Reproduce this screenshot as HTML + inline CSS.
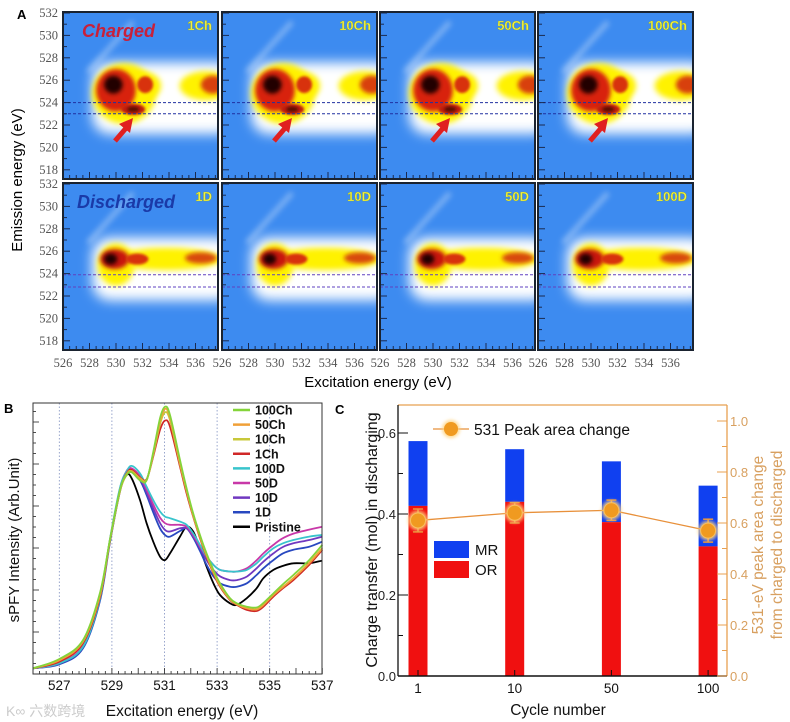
<!DOCTYPE html>
<html><head><meta charset="utf-8">
<style>
html,body{margin:0;padding:0;background:#fff;}
svg{display:block;font-family:"Liberation Sans",sans-serif;}
.serif{font-family:"Liberation Serif",serif;}
</style></head>
<body>
<svg id="fig" width="790" height="722" viewBox="0 0 790 722" xmlns="http://www.w3.org/2000/svg">
<defs>
<filter id="b6" x="-50%" y="-50%" width="200%" height="200%"><feGaussianBlur stdDeviation="6"/></filter>
<filter id="b3" x="-50%" y="-50%" width="200%" height="200%"><feGaussianBlur stdDeviation="3"/></filter>
<filter id="b2" x="-50%" y="-50%" width="200%" height="200%"><feGaussianBlur stdDeviation="2"/></filter>
<filter id="b1" x="-50%" y="-50%" width="200%" height="200%"><feGaussianBlur stdDeviation="1.2"/></filter>
<filter id="glow" x="-50%" y="-50%" width="200%" height="200%"><feGaussianBlur stdDeviation="1.5"/></filter>
</defs>
<g id="panelA"></g>
<g id="panelB"></g>
<g id="panelC"></g>
</svg>
<script>
// ---------------- Panel A data ----------------
const aLabels = ["1Ch","10Ch","50Ch","100Ch","1D","10D","50D","100D"];
const aXTicks = [526,528,530,532,534,536];
const aYTicks = [532,530,528,526,524,522,520,518];
// halo rectangles [x1,y1,x2,y2] in eV
const chargedHalo=[528.2,527.6,539,521.2];
const dischargedHalo=[528.2,527.2,539,521.6];
// blobs [cx(eV), cy(eV), rx(eV), ry(eV), color, blur]
const chargedBlobs = [
 [530.6,524.8,2.4,2.7,"#fff200","b3"],
 [532.2,525.5,1.2,1.2,"#fff200","b3"],
 [536.8,525.5,2.0,1.3,"#fff200","b3"],
 [530.0,525.1,1.5,1.9,"#d82010","b2"],
 [532.2,525.6,0.6,0.75,"#d83010","b1"],
 [537.3,525.6,0.9,0.8,"#d84010","b2"],
 [531.3,523.4,0.9,0.5,"#c01a10","b1"],
 [529.8,525.6,0.7,0.8,"#200000","b2"],
 [531.3,523.4,0.45,0.25,"#601000","b1"]
];
const dischargedBlobs = [
 [533.8,525.3,4.2,1.0,"#fff200","b3"],
 [530.0,524.8,1.4,1.9,"#fff200","b3"],
 [529.9,525.3,1.1,0.9,"#c81810","b2"],
 [531.6,525.3,0.85,0.5,"#d83010","b1"],
 [536.4,525.4,1.2,0.5,"#d84810","b2"],
 [529.6,525.3,0.5,0.5,"#200000","b2"]
];
const aLefts=[63,222,380,538], aTops=[12,183], aW=155, aH=167;
const SVGNS="http://www.w3.org/2000/svg";
function el(tag,attrs,parent){const e=document.createElementNS(SVGNS,tag);for(const k in attrs)e.setAttribute(k,attrs[k]);if(parent)parent.appendChild(e);return e;}
const A=document.getElementById('panelA');
function ax(E,l){return l+(E-526)*13.25;}
function ay(E,t){return t+1+(532-E)*11.2;}
aLabels.forEach((lab,i)=>{
  const row=i<4?0:1, col=i%4, l=aLefts[col], t=aTops[row];
  const g=el('g',{},A);
  
  
  const cid='clip'+i;
  const cp=el('clipPath',{id:cid},g); el('rect',{x:l,y:t,width:aW,height:aH},cp);
  const inner=el('g',{'clip-path':'url(#'+cid+')'},g);
  el('rect',{x:l,y:t,width:aW,height:aH,fill:'#3d8bf0'},inner);
  el('line',{x1:l+25,y1:t+60,x2:l+70,y2:t+10,stroke:'#9cc4f6','stroke-width':5,filter:'url(#b3)',opacity:0.7},inner);
  const h=row===0?chargedHalo:dischargedHalo;
  el('rect',{x:ax(h[0],l),y:ay(h[1],t),width:ax(h[2],l)-ax(h[0],l),height:ay(h[3],t)-ay(h[1],t),rx:18,fill:'#ffffff',filter:'url(#b6)'},inner);
  const blobs=row===0?chargedBlobs:dischargedBlobs;
  blobs.forEach(b=>{
    el('ellipse',{cx:ax(b[0],l),cy:ay(b[1],t),rx:b[2]*13.25,ry:b[3]*11.2,fill:b[4],filter:'url(#'+b[5]+')'},inner);
  });
  const dl=row===0?[524,523]:[523.9,522.8];
  dl.forEach(v=>{
    const ln=el('line',{x1:l,x2:l+aW,y1:ay(v,t),y2:ay(v,t),stroke:row===0?'#2030a0':'#6040c0','stroke-width':1,'stroke-dasharray':'3,2'},inner);
    
    
  });
  for(let e=517;e<=532;e+=1){const y=ay(e,t);if(y<t||y>t+aH)continue;el('line',{x1:l,x2:l+(e%2===0?7:4),y1:y,y2:y,stroke:'#1a2a50','stroke-width':1},inner);}
  for(let e=526;e<=537.5;e+=0.5){const x=ax(e,l);el('line',{x1:x,x2:x,y1:t+aH,y2:t+aH-(e%2===0?7:4),stroke:'#1a2a50','stroke-width':1},inner);}
  el('rect',{x:l,y:t,width:aW,height:aH,fill:'none',stroke:'#1a2330','stroke-width':2},g);
  const tx=el('text',{x:l+aW-6,y:t+18,'text-anchor':'end','font-size':13,'font-weight':'bold',fill:'#f4f040',stroke:'#80a020','stroke-width':0.3},g);
  tx.textContent=lab;
  
  
  if(col===0){
    aYTicks.forEach(v=>{const tt=el('text',{x:l-5,y:ay(v,t)+4,'text-anchor':'end','font-size':12.5,fill:'#555',class:'serif'},A);tt.textContent=v;
      });
  }
  if(row===1){
    aXTicks.forEach(v=>{const tt=el('text',{x:ax(v,l),y:367,'text-anchor':'middle','font-size':12.5,fill:'#555',class:'serif'},A);tt.textContent=v;
      });
  }
});
</script>
<script>
(function(){
const A=document.getElementById('panelA');
A.insertAdjacentHTML('beforeend',
'<text x="17" y="19" font-size="13" font-weight="bold">A</text>'+
'<text x="82" y="37" font-size="18" font-weight="bold" font-style="italic" fill="#c8203a">Charged</text>'+
'<text x="77" y="208" font-size="18" font-weight="bold" font-style="italic" fill="#1a3aa8">Discharged</text>'+
'<text transform="translate(22,180) rotate(-90)" text-anchor="middle" font-size="15">Emission energy (eV)</text>'+
'<text x="378" y="387" text-anchor="middle" font-size="15">Excitation energy (eV)</text>');
[63,222,380,538].forEach(l=>{
  A.insertAdjacentHTML('beforeend','<g><line x1="'+(l+52)+'" y1="141" x2="'+(l+64)+'" y2="127" stroke="#e02020" stroke-width="5"/><polygon points="'+(l+70)+',118 '+(l+56)+',124 '+(l+67)+',133" fill="#e02020"/></g>');
});
})();
</script>
<script>
// ---------------- Panel B data ----------------
const bEnergy=[526.0,527.0,527.9,528.55,528.93,529.31,529.56,529.75,530.07,530.32,530.57,530.83,531.02,531.21,531.59,531.84,532.09,532.35,532.6,532.86,533.11,533.49,533.75,534.13,534.5,534.76,535.14,535.5,535.9,536.5,537.0];
const bNames=["100Ch","50Ch","10Ch","1Ch","100D","50D","10D","1D","Pristine"];
const s100Ch=[2.5,6,13.1,31,51,69.4,75,76,73,73,83.5,96.3,100.6,97.5,80.6,70,60.6,52.5,45.6,39.4,34.4,28.8,26.9,25.6,25.3,27,30.6,34,37.5,43.1,48.8];
const s50Ch=[2.5,5.5,12.5,30,50.6,69,75,76.3,73.5,73,83,95,99.8,96.5,79.5,69.4,60,52,45,38.8,33.8,28.5,26.5,25,24.6,26.3,30,33,36.3,42,47.5];
const s10Ch=[2.5,5.8,12.8,30.5,51,69.4,75.3,76.5,73.8,73.2,82.5,94,98.5,95.5,79,69,59.8,51.8,44.8,38.5,33.5,28.3,26.5,25,24.6,26.3,30,33,36.3,42,47.5];
const s1Ch=[2.5,5,11.9,29.4,50.6,69.4,75.6,76.9,74.1,73.4,81.9,91.9,95.4,93.1,78.1,68.1,59.4,51.3,44.4,38.1,33.1,28.1,26.3,24.4,24,25.6,29.4,32.5,35.6,41.3,46.9];
const s100D=[2.5,4.4,10.6,28.8,51.3,70.4,76.3,78.4,75.6,70.6,65.6,61.3,59.4,58.8,57.5,56.3,53.1,48.8,44.4,41.3,39.4,38.8,38.8,39.4,41.9,44.4,47.5,49.4,50.6,51.9,52.5];
const s50D=[2.5,4.4,11,29.5,51,70,76.5,77.5,74.5,69.5,64,59,56.9,56.3,56.3,55.6,52.5,48.1,44.4,41.3,39.4,38.8,38.8,40,43,45.6,48.8,51.3,53,54.5,55.6];
const s10D=[2.5,4.4,10.6,29,50.6,69.4,76,76.9,73.8,68.5,62.5,57,54.4,53.8,55,55,52,47.5,43.1,39.4,37,35.6,35.6,36.9,40,42.5,45.6,48,49.4,50.6,51.9];
const s1D=[2.5,4,10,28,50,69,75.6,76.3,73,67.5,61,55,52.5,51.9,54,55,51.5,46.5,41.3,37,34.4,33.1,33.1,34.4,37.5,40,43.1,45.6,47,48.1,50];
const sPristine=[2.5,4.4,10.6,29.4,50.6,69.4,75,73.8,65.6,56.9,50,44.4,43.1,45.6,51.9,55.6,53.8,47.5,40.6,34.4,30,26.9,26.3,28.8,32.5,36.3,39.4,40.9,41.9,41.9,42.9];
const bXTicks=[527,529,531,533,535,537];
(function(){
const B=document.getElementById('panelB');
const L=33,R=322,T=403,Bt=674;
const bx=E=>L+(E-526)*26.3;
const by=I=>675-I*2.667;
function mk(tag,attrs){const e=document.createElementNS("http://www.w3.org/2000/svg",tag);for(const k in attrs)e.setAttribute(k,attrs[k]);B.appendChild(e);return e;}
bXTicks.slice(0,5).forEach(v=>{const g=mk('line',{x1:bx(v),x2:bx(v),y1:T,y2:Bt,stroke:'#8090c0','stroke-width':0.8,'stroke-dasharray':'1.5,2'});
  });
for(let e=526;e<=537;e+=0.25){const x=bx(e);const len=(Math.abs(e-Math.round(e))<1e-6)?6:3;mk('line',{x1:x,x2:x,y1:Bt,y2:Bt-len,stroke:'#222','stroke-width':0.8});}
for(let i=0;i<26;i++){const y=Bt-i*10.5;if(y<T)break;mk('line',{x1:L,x2:L+(i%4===0?6:3),y1:y,y2:y,stroke:'#222','stroke-width':0.8});}
const cols={"100Ch":"#84d43a","50Ch":"#f0a038","10Ch":"#c8c83a","1Ch":"#d02828","100D":"#38c4cc","50D":"#c838a8","10D":"#7038c0","1D":"#2848c0","Pristine":"#000"};
const data={"100Ch":s100Ch,"50Ch":s50Ch,"10Ch":s10Ch,"1Ch":s1Ch,"100D":s100D,"50D":s50D,"10D":s10D,"1D":s1D,"Pristine":sPristine};
function path(vals){
  const p=bEnergy.map((e,i)=>[bx(e),by(vals[i])]);
  let d='M'+p[0][0].toFixed(1)+','+p[0][1].toFixed(1);
  for(let i=0;i<p.length-1;i++){
    const p0=p[Math.max(0,i-1)],p1=p[i],p2=p[i+1],p3=p[Math.min(p.length-1,i+2)];
    const c1=[p1[0]+(p2[0]-p0[0])/6,p1[1]+(p2[1]-p0[1])/6],c2=[p2[0]-(p3[0]-p1[0])/6,p2[1]-(p3[1]-p1[1])/6];
    d+='C'+c1[0].toFixed(1)+','+c1[1].toFixed(1)+' '+c2[0].toFixed(1)+','+c2[1].toFixed(1)+' '+p2[0].toFixed(1)+','+p2[1].toFixed(1);
  }
  return d;
}
["Pristine","1D","10D","50D","100D","1Ch","10Ch","50Ch","100Ch"].forEach(n=>{
  const pth=mk('path',{d:path(data[n]),fill:'none',stroke:cols[n],'stroke-width':1.8});
  
  
});
mk('rect',{x:L,y:T,width:R-L,height:Bt-T,fill:'none',stroke:'#333','stroke-width':1});
bNames.forEach((n,i)=>{
  const y=410+i*14.6;
  const ln=mk('line',{x1:233,x2:250,y1:y,y2:y,stroke:cols[n],'stroke-width':2.5});
  
  const t=mk('text',{x:255,y:y+4.5,'font-size':12.5,'font-weight':'bold',fill:'#111'});t.textContent=n;
  
});
bXTicks.forEach(v=>{const t=mk('text',{x:bx(v),y:690,'text-anchor':'middle','font-size':13.5,fill:'#111'});t.textContent=v;
  });
})();
</script>
<script>
// ---------------- Panel C data ----------------
const cCats=["1","10","50","100"];
const cTotal=[0.58,0.56,0.53,0.47];
const cOR=[0.42,0.43,0.38,0.32];
const cPeak=[0.61,0.64,0.65,0.57];
const cErr=[0.045,0.04,0.04,0.045];
const cLeftTicks=["0.0","0.2","0.4","0.6"];
const cRightTicks=["0.0","0.2","0.4","0.6","0.8","1.0"];
(function(){
const C=document.getElementById('panelC');
const L=398,R=727,T=405,Bt=676;
const cx=i=>418+i*96.7;
const yl=v=>Bt-v*405;
const yr=v=>Bt-v*255;
function mk(tag,attrs){const e=document.createElementNS("http://www.w3.org/2000/svg",tag);for(const k in attrs)e.setAttribute(k,attrs[k]);C.appendChild(e);return e;}
cCats.forEach((c,i)=>{
  const w=19;
  const mr=mk('rect',{x:cx(i)-w/2,y:yl(cTotal[i]),width:w,height:yl(cOR[i])-yl(cTotal[i]),fill:'#1040f0'});
  
  const or=mk('rect',{x:cx(i)-w/2,y:yl(cOR[i]),width:w,height:Bt-yl(cOR[i]),fill:'#f01010'});
  
});
const pts=cPeak.map((v,i)=>cx(i)+','+yr(v)).join(' ');
const pl=mk('polyline',{points:pts,fill:'none',stroke:'#e8903a','stroke-width':1.3});

cPeak.forEach((v,i)=>{
  const x=cx(i);
  mk('line',{x1:x,x2:x,y1:yr(v+cErr[i]),y2:yr(v-cErr[i]),stroke:'#e8903a','stroke-width':1.5});
  mk('line',{x1:x-5,x2:x+5,y1:yr(v+cErr[i]),y2:yr(v+cErr[i]),stroke:'#e8903a','stroke-width':1.5});
  mk('line',{x1:x-5,x2:x+5,y1:yr(v-cErr[i]),y2:yr(v-cErr[i]),stroke:'#e8903a','stroke-width':1.5});
  mk('circle',{cx:x,cy:yr(v),r:10,fill:'#ffd27a',filter:'url(#glow)',opacity:0.8});
  const c=mk('circle',{cx:x,cy:yr(v),r:7.5,fill:'#f09a20',stroke:'#f8c060','stroke-width':1});
  
});
mk('line',{x1:L,x2:R,y1:T,y2:T,stroke:'#e8a050','stroke-width':1.3});
mk('line',{x1:R,x2:R,y1:T,y2:Bt,stroke:'#e8a050','stroke-width':1.3});
mk('line',{x1:L,x2:L,y1:T,y2:Bt,stroke:'#111','stroke-width':1.3});
mk('line',{x1:L,x2:R,y1:Bt,y2:Bt,stroke:'#111','stroke-width':1.5});
for(let v=0;v<=0.65;v+=0.1){const y=yl(v);const major=Math.round(v*10)%2===0;mk('line',{x1:L,x2:L+(major?10:5),y1:y,y2:y,stroke:'#111','stroke-width':1});}
for(let v=0;v<=1.001;v+=0.1){const y=yr(v);const major=Math.round(v*10)%2===0;mk('line',{x1:R,x2:R-(major?10:5),y1:y,y2:y,stroke:'#e8a050','stroke-width':1});}
cCats.forEach((c,i)=>{mk('line',{x1:cx(i),x2:cx(i),y1:Bt,y2:Bt-6,stroke:'#111','stroke-width':1});
  const t=mk('text',{x:cx(i),y:693,'text-anchor':'middle','font-size':13.5,fill:'#111'});t.textContent=c;
  });
cLeftTicks.forEach(s=>{const t=mk('text',{x:L-2,y:yl(parseFloat(s))+5,'text-anchor':'end','font-size':13,fill:'#222'});t.textContent=s;
  });
cRightTicks.forEach(s=>{const t=mk('text',{x:R+3,y:yr(parseFloat(s))+5,'font-size':13,fill:'#d8a060'});t.textContent=s;
  });
})();
</script>
<script>
(function(){
const C=document.getElementById('panelC');
C.insertAdjacentHTML('beforeend',
'<text x="335" y="414" font-size="13" font-weight="bold">C</text>'+
'<g><line x1="433" x2="469" y1="429" y2="429" stroke="#e8903a" stroke-width="1.3"/><circle cx="451" cy="429" r="9" fill="#ffd27a" opacity="0.8" filter="url(#glow)"/><circle cx="451" cy="429" r="7" fill="#f09a20"/><text x="474" y="435" font-size="15.5" fill="#111">531 Peak area change</text></g>'+
'<g><rect x="434" y="541" width="35" height="17" fill="#1040f0"/><text x="475" y="555" font-size="15" fill="#111">MR</text></g>'+
'<g><rect x="434" y="561" width="35" height="17" fill="#f01010"/><text x="475" y="575" font-size="15" fill="#111">OR</text></g>'+
'<text transform="translate(377,540) rotate(-90)" text-anchor="middle" font-size="16" fill="#111">Charge transfer (mol) in discharging</text>'+
'<text transform="translate(763,545) rotate(-90)" text-anchor="middle" font-size="15.5" fill="#d8a060">531-eV peak area change</text>'+
'<text transform="translate(782,545) rotate(-90)" text-anchor="middle" font-size="15.5" fill="#d8a060">from charged to discharged</text>'+
'<text x="558" y="715" text-anchor="middle" font-size="15.5" fill="#111">Cycle number</text>');
const B=document.getElementById('panelB');
B.insertAdjacentHTML('beforeend',
'<text x="4" y="413" font-size="13" font-weight="bold">B</text>'+
'<text transform="translate(19,540) rotate(-90)" text-anchor="middle" font-size="15" fill="#111">sPFY Intensity (Arb.Unit)</text>'+
'<text x="182" y="716" text-anchor="middle" font-size="15.5" fill="#111">Excitation energy (eV)</text>'+
'<text x="6" y="716" font-size="14" fill="#ccc">K∞ 六数跨境</text>');
})();
</script>
</body></html>
